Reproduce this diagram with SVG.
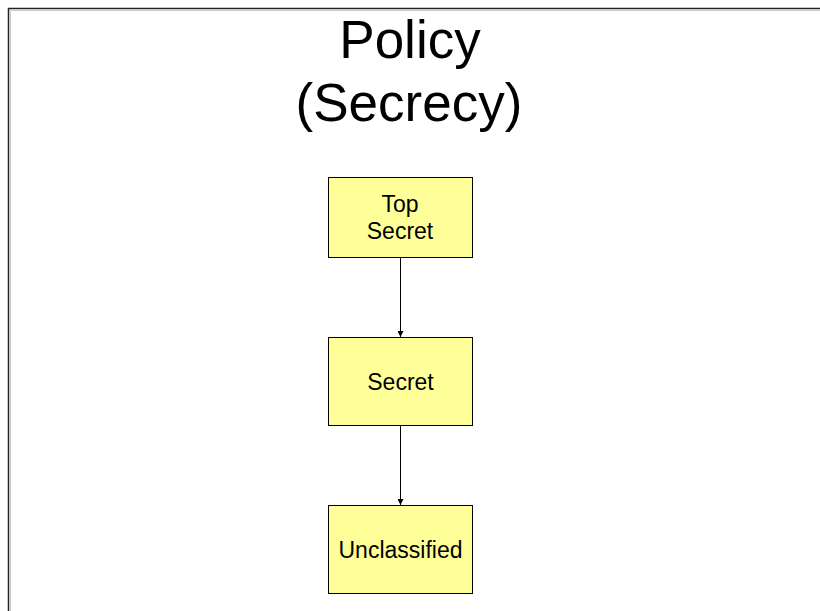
<svg xmlns="http://www.w3.org/2000/svg" width="820" height="611" viewBox="0 0 820 611">
  <defs>
    <style>
      .box { fill: #FFFF99; stroke: #000; stroke-width: 1; }
      .lbl { font-family: "Liberation Sans", Arial, sans-serif; font-size: 23px; fill: #000; text-anchor: middle; }
      .title { font-family: "Liberation Sans", Arial, sans-serif; font-size: 53px; fill: #000; text-anchor: middle; }
      .edge { stroke: #000; stroke-width: 1; fill: none; marker-end: url(#arrow); }
    </style>
    <marker id="arrow" viewBox="0 0 8 8" refX="8" refY="4" markerWidth="6" markerHeight="6" markerUnits="userSpaceOnUse" orient="auto">
      <path d="M0,0 L8,4 L0,8 Z" fill="#000"/>
    </marker>
  </defs>
  <rect x="0" y="0" width="820" height="611" fill="#fff"/>
  <g id="frame">
    <path d="M8.5,611 L8.5,8.5 L820,8.5" fill="none" stroke="#222" stroke-width="1.5"/>
    <path d="M10.5,611 L10.5,10.5 L820,10.5" fill="none" stroke="#ccc" stroke-width="1"/>
  </g>
  <g id="title">
    <text class="title" x="410" y="58">Policy</text>
    <text class="title" x="409" y="121">(Secrecy)</text>
  </g>
  <g id="connectors">
    <line class="edge" x1="400.5" y1="257" x2="400.5" y2="337"/>
    <line class="edge" x1="400.5" y1="425" x2="400.5" y2="505"/>
  </g>
  <g id="top-secret">
    <rect class="box" x="328.5" y="177.5" width="144" height="80"/>
    <text class="lbl" x="400" y="212">Top</text>
    <text class="lbl" x="400" y="239">Secret</text>
  </g>
  <g id="secret">
    <rect class="box" x="328.5" y="337.5" width="144" height="88"/>
    <text class="lbl" x="400.5" y="390">Secret</text>
  </g>
  <g id="unclassified">
    <rect class="box" x="328.5" y="505.5" width="144" height="88"/>
    <text class="lbl" x="400.5" y="558">Unclassified</text>
  </g>
</svg>
